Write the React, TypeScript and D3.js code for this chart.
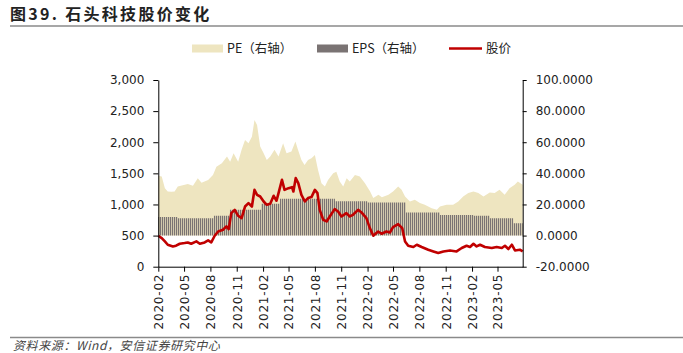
import React, { useEffect, useRef } from 'react';
import * as d3 from 'd3';

// 股价（左轴）
const priceData: [string, number][] = [
  ['2020-02-01', 497], ['2020-02-13', 460], ['2020-02-24', 406], ['2020-03-05', 353],
  ['2020-03-23', 326], ['2020-04-03', 337], ['2020-04-16', 369], ['2020-05-03', 380],
  ['2020-05-14', 390], ['2020-05-26', 369], ['2020-06-13', 406], ['2020-06-25', 369],
  ['2020-07-12', 390], ['2020-07-24', 422], ['2020-08-04', 390], ['2020-08-16', 497],
  ['2020-08-28', 566], ['2020-09-14', 594], ['2020-09-26', 647], ['2020-10-04', 605],
  ['2020-10-13', 861], ['2020-10-25', 914], ['2020-11-06', 818], ['2020-11-18', 781],
  ['2020-11-30', 967], ['2020-12-12', 1022], ['2020-12-24', 967], ['2021-01-02', 1235],
  ['2021-01-11', 1155], ['2021-01-22', 1128], ['2021-02-03', 1048], ['2021-02-14', 995],
  ['2021-02-26', 1011], ['2021-03-10', 1139], ['2021-03-20', 1060], ['2021-03-27', 1182],
  ['2021-04-08', 1396], ['2021-04-17', 1235], ['2021-05-01', 1262], ['2021-05-13', 1278],
  ['2021-05-18', 1208], ['2021-05-26', 1423], ['2021-06-04', 1343], ['2021-06-15', 1155],
  ['2021-06-27', 1048], ['2021-07-08', 1102], ['2021-07-20', 1118], ['2021-08-01', 1235],
  ['2021-08-10', 1182], ['2021-08-18', 914], ['2021-08-30', 754], ['2021-09-11', 727],
  ['2021-09-22', 807], ['2021-10-09', 925], ['2021-10-21', 887], ['2021-11-02', 807],
  ['2021-11-19', 861], ['2021-12-01', 807], ['2021-12-12', 834], ['2021-12-30', 914],
  ['2022-01-13', 861], ['2022-01-28', 781], ['2022-02-09', 621], ['2022-02-21', 497],
  ['2022-03-10', 566], ['2022-03-22', 529], ['2022-04-08', 566], ['2022-04-20', 550],
  ['2022-05-01', 637], ['2022-05-19', 685], ['2022-06-02', 621], ['2022-06-12', 406],
  ['2022-06-23', 337], ['2022-07-11', 316], ['2022-07-23', 353], ['2022-08-09', 316],
  ['2022-09-01', 273], ['2022-09-19', 245], ['2022-10-06', 220], ['2022-10-24', 245],
  ['2022-11-16', 261], ['2022-12-09', 245], ['2022-12-27', 300], ['2023-01-13', 337],
  ['2023-01-25', 316], ['2023-02-06', 369], ['2023-02-17', 326], ['2023-03-01', 353],
  ['2023-03-18', 316], ['2023-04-11', 300], ['2023-04-28', 316], ['2023-05-16', 300],
  ['2023-05-27', 337], ['2023-06-08', 284], ['2023-06-20', 353], ['2023-07-01', 261],
  ['2023-07-18', 273], ['2023-07-28', 245],
];

// PE（右轴）
const peData: [string, number][] = [
  ['2020-02-01', 38.5], ['2020-02-13', 37.9], ['2020-02-24', 30.5], ['2020-03-05', 28.3],
  ['2020-03-18', 28.1], ['2020-03-29', 28.3], ['2020-04-09', 31.5], ['2020-05-14', 33.2],
  ['2020-06-01', 32.0], ['2020-06-18', 36.9], ['2020-07-01', 33.9], ['2020-07-24', 35.8],
  ['2020-08-10', 39.0], ['2020-08-22', 44.3], ['2020-09-10', 46.5], ['2020-09-28', 50.8],
  ['2020-10-09', 47.5], ['2020-10-21', 52.9], ['2020-11-06', 47.5], ['2020-11-18', 55.1],
  ['2020-11-30', 61.5], ['2020-12-12', 59.4], ['2020-12-24', 63.6], ['2021-01-02', 74.3],
  ['2021-01-11', 71.1], ['2021-01-22', 57.2], ['2021-02-03', 52.9], ['2021-02-14', 48.6],
  ['2021-02-26', 50.8], ['2021-03-13', 55.1], ['2021-03-27', 50.8], ['2021-04-12', 59.4],
  ['2021-04-24', 52.9], ['2021-05-11', 54.0], ['2021-05-25', 60.4], ['2021-06-03', 55.1],
  ['2021-06-15', 48.6], ['2021-06-26', 45.4], ['2021-07-08', 48.6], ['2021-07-20', 49.7],
  ['2021-08-01', 51.8], ['2021-08-12', 42.2], ['2021-08-24', 33.7], ['2021-09-05', 31.5],
  ['2021-09-16', 35.8], ['2021-10-04', 40.1], ['2021-10-15', 41.1], ['2021-10-27', 34.7],
  ['2021-11-08', 31.5], ['2021-11-20', 36.9], ['2021-12-01', 34.7], ['2021-12-19', 39.0],
  ['2022-01-05', 37.9], ['2022-01-23', 33.7], ['2022-02-10', 28.3], ['2022-02-21', 24.1],
  ['2022-03-11', 26.2], ['2022-03-23', 24.7], ['2022-04-15', 26.2], ['2022-05-01', 28.3],
  ['2022-05-19', 31.5], ['2022-05-31', 29.4], ['2022-06-12', 25.1], ['2022-06-29', 21.9],
  ['2022-07-16', 23.0], ['2022-08-03', 20.9], ['2022-08-20', 19.8], ['2022-09-13', 17.6],
  ['2022-10-01', 16.6], ['2022-10-12', 18.7], ['2022-11-04', 19.8], ['2022-11-27', 19.8],
  ['2022-12-15', 21.9], ['2023-01-01', 25.1], ['2023-01-19', 27.3], ['2023-02-06', 28.3],
  ['2023-02-23', 27.3], ['2023-03-13', 25.1], ['2023-04-04', 27.7], ['2023-04-21', 27.3],
  ['2023-05-08', 29.4], ['2023-05-26', 26.2], ['2023-06-12', 30.5], ['2023-06-30', 32.6],
  ['2023-07-11', 34.7], ['2023-07-28', 32.6],
];

// EPS（右轴），每段起始日期与数值
const epsSteps: [string, number][] = [
  ['2020-02-01', 11.9], ['2020-04-09', 11.2], ['2020-08-13', 12.7], ['2020-10-08', 16.6],
  ['2021-01-25', 20.4], ['2021-04-01', 23.6], ['2021-10-10', 22.1], ['2022-02-01', 21.2],
  ['2022-06-15', 14.8], ['2022-10-12', 13.3], ['2023-02-06', 12.7], ['2023-04-04', 11.2],
  ['2023-06-25', 8.0],
];
const startDate = '2020-02-01';
const endDate = '2023-07-28';

const leftTicks = [0, 500, 1000, 1500, 2000, 2500, 3000];
const rightTicks = [-20, 0, 20, 40, 60, 80, 100];
const legendLabels = ['PE（右轴）', 'EPS（右轴）', '股价'];
const title = '图39. 石头科技股价变化';
const source = '资料来源：Wind，安信证券研究中心';

const PE_COLOR = '#eee5c0';
const EPS_COLOR = '#7a7373';
const PRICE_COLOR = '#c00000';
const FONT = '"DejaVu Sans", sans-serif';
const CJK = '"Noto Sans CJK SC", sans-serif';

export default function App() {
  const svgRef = useRef<SVGSVGElement>(null);

  useEffect(() => {
    if (!svgRef.current) return;
    const svg = d3.select(svgRef.current);
    svg.selectAll('*').remove();

    const parse = d3.timeParse('%Y-%m-%d');
    const left = 158.3, right = 522.7, top = 80, bottom = 266.7;

    const x = d3.scaleTime()
      .domain([parse(startDate)!, parse(endDate)!])
      .range([left, right]);
    const yL = d3.scaleLinear().domain([0, 3000]).range([bottom, top]);
    const yR = d3.scaleLinear().domain([-20, 100]).range([bottom, top]);

    const pe = peData.map(([d, v]) => ({ date: parse(d)!, v }));
    const price = priceData.map(([d, v]) => ({ date: parse(d)!, v }));
    const eps = epsSteps.map(([d, v]) => ({ date: parse(d)!, v }));
    eps.push({ date: parse(endDate)!, v: epsSteps[epsSteps.length - 1][1] });

    // stripes for the weekly EPS bars
    const defs = svg.append('defs');
    const pat = defs.append('pattern')
      .attr('id', 'epsBars')
      .attr('patternUnits', 'userSpaceOnUse')
      .attr('width', 2)
      .attr('height', 10);
    pat.append('rect').attr('width', 1.25).attr('height', 10).attr('fill', EPS_COLOR);

    // title
    svg.append('text')
      .attr('x', 10).attr('y', 19.5)
      .attr('font-family', CJK)
      .attr('font-size', 16)
      .attr('font-weight', 'bold')
      .attr('letter-spacing', 2.3)
      .attr('fill', '#222')
      .text(title);
    svg.append('line')
      .attr('x1', 10).attr('x2', 683).attr('y1', 26).attr('y2', 26)
      .attr('stroke', '#8a8a8a').attr('stroke-width', 1.5);

    // legend
    const lg = svg.append('g').attr('font-family', CJK).attr('font-size', 12.5).attr('fill', '#222');
    lg.append('rect').attr('x', 192).attr('y', 44.5).attr('width', 31).attr('height', 8).attr('fill', PE_COLOR);
    lg.append('text').attr('x', 227).attr('y', 48.5).attr('dy', '0.36em').text(legendLabels[0]);
    lg.append('rect').attr('x', 317).attr('y', 44.5).attr('width', 31).attr('height', 8).attr('fill', EPS_COLOR);
    lg.append('text').attr('x', 352).attr('y', 48.5).attr('dy', '0.36em').text(legendLabels[1]);
    lg.append('line').attr('x1', 449).attr('x2', 482).attr('y1', 48.5).attr('y2', 48.5)
      .attr('stroke', PRICE_COLOR).attr('stroke-width', 2.5);
    lg.append('text').attr('x', 486).attr('y', 48.5).attr('dy', '0.36em').text(legendLabels[2]);

    // PE area
    const peArea = d3.area<{ date: Date; v: number }>()
      .x(d => x(d.date))
      .y0(yR(0))
      .y1(d => yR(d.v));
    svg.append('path').datum(pe).attr('d', peArea).attr('fill', PE_COLOR);

    // EPS bars
    const epsArea = d3.area<{ date: Date; v: number }>()
      .x(d => x(d.date))
      .y0(yR(0))
      .y1(d => yR(d.v))
      .curve(d3.curveStepAfter);
    svg.append('path').datum(eps).attr('d', epsArea).attr('fill', 'url(#epsBars)');

    // price line
    const line = d3.line<{ date: Date; v: number }>()
      .x(d => x(d.date))
      .y(d => yL(d.v));
    svg.append('path').datum(price).attr('d', line)
      .attr('fill', 'none').attr('stroke', PRICE_COLOR)
      .attr('stroke-width', 2.6).attr('stroke-linejoin', 'round');

    // axes
    const styleAxis = (g: d3.Selection<SVGGElement, unknown, null, undefined>) => {
      g.attr('font-family', FONT).attr('font-size', 12);
      g.selectAll('.domain').attr('stroke', '#000');
      g.selectAll('.tick line').attr('stroke', '#000');
      g.selectAll('text').attr('fill', '#222');
    };

    const gl = svg.append('g').attr('transform', `translate(${left},0)`)
      .call(d3.axisLeft(yL).tickValues(leftTicks).tickSize(5).tickSizeOuter(0).tickPadding(9)
        .tickFormat(d => d3.format(',')(d as number)));
    styleAxis(gl);

    const gr = svg.append('g').attr('transform', `translate(${right},0)`)
      .call(d3.axisRight(yR).tickValues(rightTicks).tickSize(4).tickSizeOuter(0).tickPadding(9)
        .tickFormat(d => (d as number).toFixed(4)));
    styleAxis(gr);

    const monthTicks = d3.timeMonth.range(new Date(2020, 1, 1), new Date(2023, 5, 2), 3);
    const gb = svg.append('g').attr('transform', `translate(0,${bottom})`)
      .call(d3.axisBottom(x).tickValues(monthTicks).tickSize(5).tickSizeOuter(0)
        .tickFormat(d => d3.timeFormat('%Y-%m')(d as Date)));
    styleAxis(gb);
    gb.selectAll('text')
      .attr('transform', 'rotate(-90)')
      .attr('text-anchor', 'end')
      .attr('x', -7)
      .attr('y', 0)
      .attr('dy', '0.36em')
      .attr('letter-spacing', 0.8);

    // source
    svg.append('line')
      .attr('x1', 10).attr('x2', 683).attr('y1', 337.5).attr('y2', 337.5)
      .attr('stroke', '#8a8a8a').attr('stroke-width', 1.5);
    svg.append('text')
      .attr('x', 13).attr('y', 350)
      .attr('font-family', CJK)
      .attr('font-size', 12)
      .attr('font-style', 'italic')
      .attr('letter-spacing', 0.6)
      .attr('fill', '#444')
      .text(source);
  }, []);

  return (
    <svg
      ref={svgRef}
      width={683}
      height={353}
      style={{ position: 'absolute', left: 0, top: 0, background: '#fff' }}
    />
  );
}
